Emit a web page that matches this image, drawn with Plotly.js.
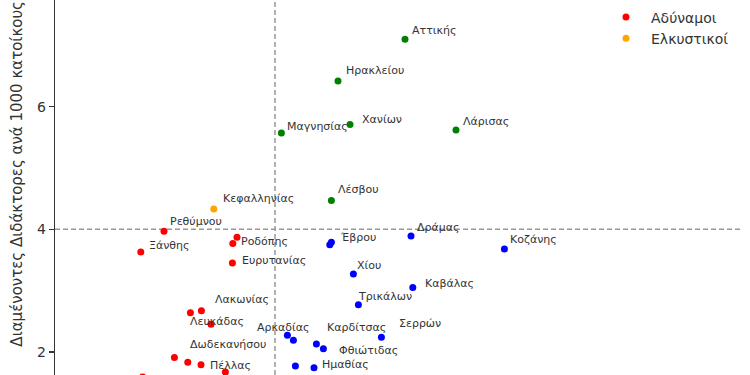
<!DOCTYPE html>
<html>
<head>
<meta charset="utf-8">
<script src="https://cdn.plot.ly/plotly-3.0.1.min.js"></script>
<style>html,body{margin:0;padding:0;background:#fff;}#chart{width:750px;height:375px;}</style>
</head>
<body>
<div id="chart"></div>
<script>
// ---- data (x in arbitrary index units) ----
const categories = ["Δυναμικοί", "Ανεπτυγμένοι", "Αδύναμοι", "Ελκυστικοί"];
const categoryColors = ["#0000ff", "#008000", "#ff0000", "#ffa500"];

const greenNames = ["Αττικής", "Ηρακλείου", "Χανίων", "Μαγνησίας", "Λάρισας", "Λέσβου"];
const greenX = [17.5, 14.15, 14.75, 11.32, 20.05, 13.82];
const greenY = [7.10, 6.42, 5.71, 5.57, 5.62, 4.47];

const orangeNames = ["Κεφαλληνίας"];
const orangeX = [7.94];
const orangeY = [4.33];

const redNames = ["Ρεθύμνου", "Ξάνθης", "Ροδόπης", "", "Ευρυτανίας", "Λακωνίας", "Λευκάδας", "", "Δωδεκανήσου", "", "Πέλλας", "", "Βοιωτίας"];
const redX = [5.45, 4.29, 9.10, 8.89, 8.87, 7.32, 6.77, 7.80, 5.97, 6.64, 7.30, 8.52, 4.38];
const redY = [3.97, 3.63, 3.87, 3.77, 3.45, 2.67, 2.64, 2.45, 1.91, 1.83, 1.79, 1.67, 1.59];

const blueNames = ["Έβρου", "", "Δράμας", "Κοζάνης", "Χίου", "Καβάλας", "Τρικάλων", "Σερρών", "Καρδίτσας", "Φθιώτιδας", "Αρκαδίας", "", "Ημαθίας", ""];
const blueX = [13.82, 13.74, 17.80, 22.47, 14.92, 17.89, 15.17, 16.32, 13.07, 13.42, 11.62, 11.92, 12.95, 12.02];
const blueY = [3.79, 3.75, 3.89, 3.68, 3.27, 3.05, 2.77, 2.24, 2.13, 2.05, 2.27, 2.19, 1.74, 1.77];

const xThreshold = 11.0;
const yThreshold = 4.0;
const yTickVals = [2, 4, 6];
const yTitle = "Διαμένοντες Διδάκτορες ανά 1000 κατοίκους";

// ---- label offsets in pixels (dx right, dy down), kept apart from the data ----
const greenOffsets = [[5,-9],[6,-10],[10,-5],[4,-7],[5,-9],[5,-11]];
const orangeOffsets = [[7,-11]];
const redOffsets = [[4,-10],[6,-6],[2,4],[0,0],[8,-3],[12,-11],[-2,9],[0,0],[14,-13],[0,0],[7,1],[0,0],[-3,-11]];
const blueOffsets = [[7,-5],[0,0],[4,-9],[4,-9],[2,-9],[10,-4],[-2,-8],[16,-14],[9,-16],[14,2],[-32,-8],[0,0],[6,-3],[0,0]];

const FONT = "DejaVu Sans, sans-serif";
const TXT = "#333333";

function trace(name, xs, ys, color, showlegend) {
  return {type: "scatter", mode: "markers", name: name, x: xs, y: ys,
    marker: {color: color, size: 7, line: {width: 0}}, showlegend: showlegend, hoverinfo: "skip"};
}

const traces = [
  trace(categories[0], blueX, blueY, categoryColors[0], false),
  trace(categories[1], greenX, greenY, categoryColors[1], false),
  trace(categories[2], redX, redY, categoryColors[2], true),
  trace(categories[3], orangeX, orangeY, categoryColors[3], true)
];

const annotations = [];
function addLabels(names, xs, ys, offs) {
  names.forEach((n, i) => {
    if (!n) return;
    annotations.push({x: xs[i], y: ys[i], xref: "x", yref: "y", text: n, showarrow: false,
      xanchor: "left", yanchor: "middle", xshift: offs[i][0], yshift: -offs[i][1],
      font: {family: FONT, size: 11, color: TXT}});
  });
}
addLabels(greenNames, greenX, greenY, greenOffsets);
addLabels(orangeNames, orangeX, orangeY, orangeOffsets);
addLabels(redNames, redX, redY, redOffsets);
addLabels(blueNames, blueX, blueY, blueOffsets);

annotations.push({xref: "paper", yref: "paper", x: 0, y: 0.537, xshift: -38, text: yTitle,
  textangle: -90, showarrow: false, xanchor: "center", yanchor: "middle",
  font: {family: FONT, size: 15, color: TXT}});

const layout = {
  width: 750, height: 375,
  margin: {l: 55, r: 7, t: 0, b: 0, autoexpand: false},
  paper_bgcolor: "#ffffff", plot_bgcolor: "#ffffff",
  font: {family: FONT, color: TXT},
  xaxis: {range: [0, 34.4], showgrid: false, zeroline: false, showline: false,
    showticklabels: false, ticks: ""},
  yaxis: {range: [1.623, 7.741], showgrid: false, zeroline: false, showline: true,
    linecolor: "#333333", linewidth: 1.25, ticks: "outside", ticklen: 5, tickwidth: 1.25,
    tickcolor: "#333333", tickvals: yTickVals, tickfont: {family: FONT, size: 14, color: TXT}},
  shapes: [
    {type: "line", xref: "x", yref: "paper", x0: xThreshold, x1: xThreshold, y0: 0, y1: 1,
      line: {color: "#999999", width: 1.5, dash: "5px,3px"}, layer: "below"},
    {type: "line", xref: "paper", yref: "y", x0: 0, x1: 1, y0: yThreshold, y1: yThreshold,
      line: {color: "#999999", width: 1.5, dash: "5px,3px"}, layer: "below"}
  ],
  legend: {x: 0.7936, y: 0.996, xanchor: "left", yanchor: "top", bgcolor: "rgba(0,0,0,0)",
    font: {family: FONT, size: 14, color: TXT}, itemwidth: 40, tracegroupgap: 0},
  annotations: annotations,
  showlegend: true
};

Plotly.newPlot("chart", traces, layout, {staticPlot: true, displayModeBar: false});
</script>
</body>
</html>
